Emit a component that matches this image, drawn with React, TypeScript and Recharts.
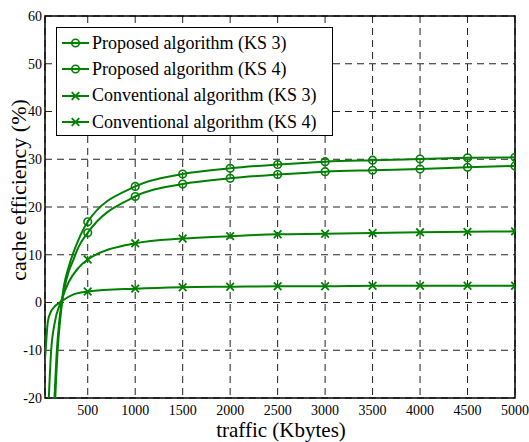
/**
 * CacheEfficiencyChart — cache efficiency vs. traffic for proposed / conventional algorithms.
 */
import {
  LineChart, Line, XAxis, YAxis, CartesianGrid, ReferenceArea,
} from 'recharts';

const GREEN = '#008000';
const FONT = 'Liberation Serif';

const TRAFFIC_TICKS   = [500, 1000, 1500, 2000, 2500, 3000, 3500, 4000, 4500, 5000];
const EFFICIENCY_TICKS = [-20, -10, 0, 10, 20, 30, 40, 50, 60];

// traffic (Kbytes) / efficiency (%) per series
const proposedKs3X  = [150, 175, 200, 225, 250, 300, 350, 400, 500, 1000, 1500, 2000, 2500, 3000, 3500, 4000, 4500, 5000];
const proposedKs3Y  = [-20, -10, -4, 0, 3.5, 7.5, 10.5, 13, 16.9, 24.3, 26.9, 28.1, 28.9, 29.5, 29.8, 30.05, 30.3, 30.4];
const proposedKs4X  = [158, 183, 208, 230, 260, 300, 350, 400, 500, 1000, 1500, 2000, 2500, 3000, 3500, 4000, 4500, 5000];
const proposedKs4Y  = [-20, -10, -4, 0, 3.5, 6.5, 9, 11.5, 14.6, 22.2, 24.8, 26.0, 26.8, 27.4, 27.7, 27.96, 28.3, 28.6];
const convKs3X      = [90, 115, 150, 220, 300, 400, 500, 1000, 1500, 2000, 2500, 3000, 3500, 4000, 4500, 5000];
const convKs3Y      = [-20, -10, -4.5, 0.3, 4.3, 7.2, 9.0, 12.4, 13.4, 13.9, 14.3, 14.4, 14.55, 14.7, 14.8, 14.9];
const convKs4X      = [50, 65, 80, 110, 140, 220, 350, 500, 1000, 1500, 2000, 2500, 3000, 3500, 4000, 4500, 5000];
const convKs4Y      = [-12, -7.5, -4, -2, -1.1, 0.2, 1.7, 2.3, 2.9, 3.2, 3.3, 3.4, 3.4, 3.5, 3.5, 3.5, 3.5];

const zip = (xs: number[], ys: number[]) => xs.map((traffic, i) => ({ traffic, value: ys[i] }));

type Marker = 'circle' | 'cross';

const SERIES: { name: string; marker: Marker; data: { traffic: number; value: number }[] }[] = [
  { name: 'Proposed algorithm (KS 3)',     marker: 'circle', data: zip(proposedKs3X, proposedKs3Y) },
  { name: 'Proposed algorithm (KS 4)',     marker: 'circle', data: zip(proposedKs4X, proposedKs4Y) },
  { name: 'Conventional algorithm (KS 3)', marker: 'cross',  data: zip(convKs3X, convKs3Y) },
  { name: 'Conventional algorithm (KS 4)', marker: 'cross',  data: zip(convKs4X, convKs4Y) },
];

function MarkerShape({ cx, cy, marker }: { cx: number; cy: number; marker: Marker }) {
  if (marker === 'circle') {
    return <circle cx={cx} cy={cy} r={3.8} fill="none" stroke={GREEN} strokeWidth={1.6} />;
  }
  const d = 3.8;
  return (
    <path
      d={`M${cx - d},${cy - d}L${cx + d},${cy + d}M${cx - d},${cy + d}L${cx + d},${cy - d}`}
      stroke={GREEN} strokeWidth={1.8} fill="none"
    />
  );
}

function makeDot(marker: Marker) {
  return (props: any) => {
    const { cx, cy, payload, index } = props;
    if (payload.traffic % 500 !== 0) return <g key={index} />;
    return <MarkerShape key={index} cx={cx} cy={cy} marker={marker} />;
  };
}

function LegendBox() {
  return (
    <div style={{
      position: 'absolute', left: 56, top: 27, width: 277, height: 109,
      border: '1.5px solid #000', background: '#fff', boxSizing: 'border-box',
      fontFamily: FONT, fontSize: 18, color: '#000', paddingTop: 2,
    }}>
      {SERIES.map(s => (
        <div key={s.name} style={{ display: 'flex', alignItems: 'center', height: 26.3 }}>
          <svg width={32} height={16} style={{ marginLeft: 3 }}>
            <line x1={2} y1={8} x2={29} y2={8} stroke={GREEN} strokeWidth={2} />
            <MarkerShape cx={15.5} cy={8} marker={s.marker} />
          </svg>
          <span style={{ whiteSpace: 'nowrap' }}>{s.name}</span>
        </div>
      ))}
    </div>
  );
}

export default function App() {
  const tick = { fontSize: 14, fill: '#000', fontFamily: FONT };
  return (
    <div style={{ position: 'absolute', left: 0, top: 0, width: 529, height: 442, background: '#fff' }}>
      <LineChart width={529} height={442} margin={{ top: 16, right: 14, bottom: 0, left: 0 }}>
        <CartesianGrid
          xAxisId="main" yAxisId="main"
          stroke="#222" strokeDasharray="7 5" strokeWidth={1}
        />
        <XAxis
          xAxisId="main" dataKey="traffic" type="number" domain={[50, 5000]} allowDataOverflow
          ticks={TRAFFIC_TICKS} interval={0} height={44}
          tick={tick} tickLine={false} tickSize={0} tickMargin={7}
          axisLine={false}
        />
        <YAxis
          yAxisId="main" type="number" domain={[-20, 60]} allowDataOverflow
          ticks={EFFICIENCY_TICKS} interval={0} width={45}
          tick={tick} tickLine={false} tickSize={0} tickMargin={3}
          axisLine={false}
        />
        <ReferenceArea
          xAxisId="main" yAxisId="main"
          x1={50} x2={5000} y1={-20} y2={60}
          fill="none" stroke="#000" strokeWidth={1.5} ifOverflow="visible"
        />
        {SERIES.map(s => (
          <Line
            key={s.name}
            xAxisId="main" yAxisId="main"
            data={s.data} dataKey="value" name={s.name}
            type="monotone" stroke={GREEN} strokeWidth={2}
            dot={makeDot(s.marker)} activeDot={false}
            isAnimationActive={false}
          />
        ))}
      </LineChart>
      <LegendBox />
      <div style={{
        position: 'absolute', left: 19, top: 190, transform: 'translate(-50%, -50%) rotate(-90deg)',
        fontFamily: FONT, fontSize: 22, whiteSpace: 'nowrap', color: '#000',
      }}>
        cache efficiency (%)
      </div>
      <div style={{
        position: 'absolute', left: 281, top: 430, transform: 'translate(-50%, -50%)',
        fontFamily: FONT, fontSize: 21, whiteSpace: 'nowrap', color: '#000',
      }}>
        traffic (Kbytes)
      </div>
    </div>
  );
}
